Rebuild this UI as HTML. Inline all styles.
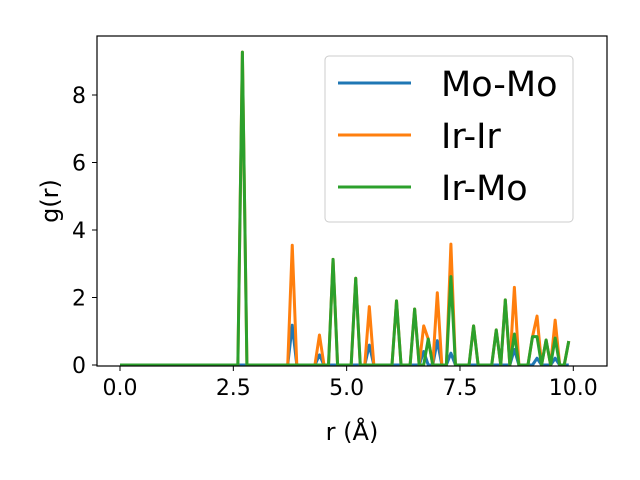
<!DOCTYPE html>
<html><head><meta charset="utf-8"><style>
html,body{margin:0;padding:0;background:#fff;}
svg{display:block;font-family:"DejaVu Sans","Liberation Sans",sans-serif;}
</style></head><body>
<svg id="chart" width="640" height="480" viewBox="0 0 640 480" xmlns="http://www.w3.org/2000/svg"></svg>
<script>
const r = [0.0,0.1,0.2,0.3,0.4,0.5,0.6,0.7,0.8,0.9,1.0,1.1,1.2,1.3,1.4,1.5,1.6,1.7,1.8,1.9,2.0,2.1,2.2,2.3,2.4,2.5,2.6,2.7,2.8,2.9,3.0,3.1,3.2,3.3,3.4,3.5,3.6,3.7,3.8,3.9,4.0,4.1,4.2,4.3,4.4,4.5,4.6,4.7,4.8,4.9,5.0,5.1,5.2,5.3,5.4,5.5,5.6,5.7,5.8,5.9,6.0,6.1,6.2,6.3,6.4,6.5,6.6,6.7,6.8,6.9,7.0,7.1,7.2,7.3,7.4,7.5,7.6,7.7,7.8,7.9,8.0,8.1,8.2,8.3,8.4,8.5,8.6,8.7,8.8,8.9,9.0,9.1,9.2,9.3,9.4,9.5,9.6,9.7,9.8,9.9];
const moMo = [0,0,0,0,0,0,0,0,0,0, 0,0,0,0,0,0,0,0,0,0, 0,0,0,0,0,0,0,0,0,0,
 0,0,0,0,0,0,0,0,1.18,0, 0,0,0,0,0.3,0,0,0,0,0, 0,0,0,0,0,0.59,0,0,0,0,
 0,0,0,0,0,0,0,0.4,0,0, 0.72,0,0,0.35,0,0,0,0,0,0, 0,0,0,0,0,0,0,0.46,0,0,
 0,0,0.2,0,0,0,0.2,0,0,0];
const irIr = [0,0,0,0,0,0,0,0,0,0, 0,0,0,0,0,0,0,0,0,0, 0,0,0,0,0,0,0,9.27,0,0,
 0,0,0,0,0,0,0,0,3.55,0, 0,0,0,0,0.89,0,0,3.13,0,0, 0,0,2.57,0,0,1.73,0,0,0,0,
 0,1.9,0,0,0,1.66,0,1.16,0.77,0, 2.14,0,0,3.58,0,0,0,0,1.16,0, 0,0,0,1.04,0,1.93,0,2.3,0,0,
 0,0.84,1.45,0,0.74,0,1.33,0,0,0.71];
const irMo = [0,0,0,0,0,0,0,0,0,0, 0,0,0,0,0,0,0,0,0,0, 0,0,0,0,0,0,0,9.27,0,0,
 0,0,0,0,0,0,0,0,0,0, 0,0,0,0,0,0,0,3.13,0,0, 0,0,2.57,0,0,0,0,0,0,0,
 0,1.9,0,0,0,1.66,0,0,0.77,0, 0,0,0,2.62,0,0,0,0,1.16,0, 0,0,0,1.04,0,1.93,0,0.92,0,0,
 0,0.84,0.84,0,0.74,0,0.8,0,0,0.71];
const xTicks = [0, 2.5, 5, 7.5, 10];
const xTickLabels = ["0.0","2.5","5.0","7.5","10.0"];
const yTicks = [0, 2, 4, 6, 8];
const yTickLabels = ["0","2","4","6","8"];
const seriesNames = ["Mo-Mo","Ir-Ir","Ir-Mo"];

const NS = "http://www.w3.org/2000/svg";
const svg = document.getElementById('chart');
const L = 97, R = 607, T = 36, B = 366;
function xs(v){ return 120 + v * 45.33; }
function ys(v){ return 365 - v * 33.75; }
function mk(tag, attrs, parent){
  const e = document.createElementNS(NS, tag);
  for (const k in attrs) e.setAttribute(k, attrs[k]);
  (parent || svg).appendChild(e);
  return e;
}
const colors = ["#1f77b4","#ff7f0e","#2ca02c"];
const data = [moMo, irIr, irMo];
const keys = ["mo-mo","ir-ir","ir-mo"];
data.forEach((ys_, si) => {
  const pts = r.map((x, i) => xs(x).toFixed(2) + "," + ys(ys_[i]).toFixed(2)).join(" ");
  const pl = mk('polyline', {points: pts, fill: 'none', stroke: colors[si], 'stroke-width': 3, 'stroke-linejoin': 'round'});
  
  
});
const frame = mk('rect', {x: L, y: T, width: R - L, height: B - T, fill: 'none', stroke: '#000', 'stroke-width': 1.2});


xTicks.forEach((v, i) => {
  const x = xs(v);
  const t = mk('line', {x1: x, x2: x, y1: B, y2: B + 5, stroke: '#000', 'stroke-width': 1});
  
  
  const lb = mk('text', {x: x, y: B + 29, 'text-anchor': 'middle', 'font-size': 22});
  lb.textContent = xTickLabels[i];
  
  
});
yTicks.forEach((v, i) => {
  const y = ys(v);
  const t = mk('line', {x1: L - 5, x2: L, y1: y, y2: y, stroke: '#000', 'stroke-width': 1});
  
  
  const lb = mk('text', {x: L - 11, y: y + 8, 'text-anchor': 'end', 'font-size': 22});
  lb.textContent = yTickLabels[i];
  
  
});
const xt = mk('text', {x: 352, y: 440, 'text-anchor': 'middle', 'font-size': 24});
xt.textContent = "r (Å)";


const yt = mk('text', {x: 58, y: 201, 'text-anchor': 'middle', 'font-size': 24, transform: 'rotate(-90 58 201)'});
yt.textContent = "g(r)";


const lg = mk('g', {});


mk('rect', {x: 325, y: 56, width: 248, height: 166, rx: 4, fill: '#fff', 'fill-opacity': 0.8, stroke: '#ccc', 'stroke-width': 1}, lg);
seriesNames.forEach((n, i) => {
  const y = 83 + i * 52;
  const ent = mk('g', {}, lg);
  
  
  mk('line', {x1: 338, x2: 411, y1: y, y2: y, stroke: colors[i], 'stroke-width': 3}, ent);
  const tx = mk('text', {x: 441, y: y + 13, 'font-size': 35}, ent);
  tx.textContent = n;
});
</script>
</body></html>
